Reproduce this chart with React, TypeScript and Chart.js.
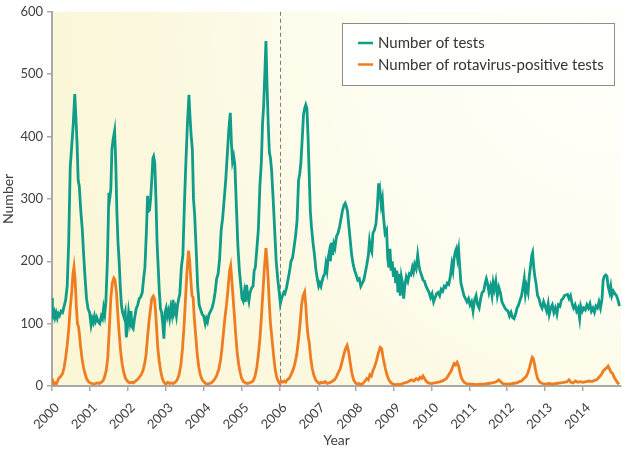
import React, { useEffect, useRef } from "react";
import { Chart, registerables } from "chart.js";

Chart.register(...registerables);

const yearTicks = [2000, 2001, 2002, 2003, 2004, 2005, 2006, 2007, 2008, 2009, 2010, 2011, 2012, 2013, 2014];
const numberTicks = [0, 100, 200, 300, 400, 500, 600];
const seriesLabels = ["Number of tests", "Number of rotavirus-positive tests"];
const dividerYear = 2006;

const testsSeries: [number, number][] = [
  [2000.00, 141], [2000.01, 118], [2000.03, 112], [2000.06, 118], [2000.08, 110], [2000.11, 117], [2000.14, 109],
  [2000.17, 116], [2000.20, 113], [2000.24, 120], [2000.28, 118], [2000.32, 128], [2000.36, 138], [2000.40, 160],
  [2000.44, 230], [2000.48, 350], [2000.52, 385], [2000.56, 420], [2000.60, 468], [2000.63, 430], [2000.66, 390],
  [2000.69, 330], [2000.72, 320], [2000.76, 280], [2000.80, 250], [2000.83, 215], [2000.87, 175], [2000.91, 140],
  [2000.95, 124], [2000.99, 118], [2001.03, 98], [2001.06, 108], [2001.09, 102], [2001.12, 112], [2001.15, 104],
  [2001.18, 110], [2001.22, 103], [2001.26, 100], [2001.30, 112], [2001.33, 108], [2001.36, 125], [2001.39, 115],
  [2001.42, 135], [2001.46, 200], [2001.50, 310], [2001.52, 300], [2001.55, 315], [2001.58, 380], [2001.61, 395],
  [2001.65, 409], [2001.68, 360], [2001.71, 280], [2001.74, 230], [2001.77, 200], [2001.80, 160], [2001.83, 130],
  [2001.86, 118], [2001.90, 110], [2001.93, 118], [2001.96, 78], [2001.99, 95], [2002.02, 118], [2002.05, 104],
  [2002.08, 120], [2002.11, 95], [2002.14, 92], [2002.18, 110], [2002.22, 124], [2002.26, 130], [2002.30, 140],
  [2002.34, 143], [2002.38, 150], [2002.42, 175], [2002.45, 190], [2002.49, 250], [2002.52, 305], [2002.54, 280],
  [2002.57, 282], [2002.60, 300], [2002.63, 330], [2002.66, 365], [2002.68, 368], [2002.71, 357], [2002.74, 300],
  [2002.77, 230], [2002.80, 190], [2002.83, 150], [2002.86, 124], [2002.89, 118], [2002.92, 100], [2002.95, 76],
  [2002.98, 118], [2003.01, 125], [2003.04, 112], [2003.07, 120], [2003.10, 109], [2003.13, 125], [2003.16, 115],
  [2003.19, 138], [2003.22, 118], [2003.25, 125], [2003.28, 113], [2003.31, 130], [2003.34, 140], [2003.37, 148],
  [2003.41, 190], [2003.45, 210], [2003.49, 290], [2003.53, 360], [2003.57, 420], [2003.61, 467], [2003.64, 430],
  [2003.67, 400], [2003.70, 380], [2003.73, 300], [2003.76, 275], [2003.80, 220], [2003.84, 160], [2003.88, 130],
  [2003.92, 122], [2003.96, 115], [2004.00, 112], [2004.04, 100], [2004.07, 108], [2004.10, 103], [2004.14, 115],
  [2004.18, 120], [2004.22, 125], [2004.26, 135], [2004.30, 150], [2004.34, 172], [2004.38, 180], [2004.42, 205],
  [2004.46, 250], [2004.50, 270], [2004.54, 300], [2004.58, 330], [2004.62, 370], [2004.66, 410], [2004.70, 438],
  [2004.73, 390], [2004.76, 360], [2004.79, 368], [2004.82, 355], [2004.86, 290], [2004.90, 225], [2004.94, 185],
  [2004.98, 160], [2005.01, 140], [2005.04, 136], [2005.07, 150], [2005.10, 135], [2005.13, 162], [2005.16, 145],
  [2005.19, 136], [2005.22, 150], [2005.26, 157], [2005.30, 160], [2005.33, 185], [2005.36, 190], [2005.40, 220],
  [2005.44, 251], [2005.48, 320], [2005.52, 360], [2005.55, 420], [2005.58, 450], [2005.61, 500], [2005.64, 553],
  [2005.67, 480], [2005.70, 420], [2005.73, 375], [2005.76, 365], [2005.79, 345], [2005.83, 300], [2005.87, 250],
  [2005.91, 200], [2005.95, 172], [2005.99, 150], [2006.02, 132], [2006.05, 140], [2006.08, 145], [2006.11, 150],
  [2006.14, 148], [2006.18, 157], [2006.22, 170], [2006.26, 183], [2006.30, 200], [2006.34, 205], [2006.38, 222],
  [2006.42, 240], [2006.46, 265], [2006.50, 330], [2006.53, 340], [2006.56, 357], [2006.60, 400], [2006.63, 435],
  [2006.66, 445], [2006.69, 451], [2006.72, 445], [2006.75, 400], [2006.78, 340], [2006.81, 280], [2006.84, 255],
  [2006.88, 230], [2006.92, 210], [2006.96, 185], [2007.00, 170], [2007.03, 160], [2007.06, 165], [2007.09, 160],
  [2007.12, 168], [2007.15, 175], [2007.19, 180], [2007.22, 195], [2007.25, 185], [2007.28, 205], [2007.31, 215],
  [2007.34, 200], [2007.37, 230], [2007.40, 210], [2007.43, 228], [2007.46, 222], [2007.50, 240], [2007.54, 245],
  [2007.58, 255], [2007.62, 268], [2007.66, 282], [2007.70, 290], [2007.73, 293], [2007.76, 288], [2007.79, 280],
  [2007.82, 260], [2007.86, 235], [2007.90, 210], [2007.94, 195], [2007.98, 185], [2008.02, 178], [2008.06, 170],
  [2008.10, 172], [2008.14, 160], [2008.18, 165], [2008.22, 170], [2008.26, 182], [2008.30, 195], [2008.34, 210],
  [2008.37, 232], [2008.40, 220], [2008.43, 215], [2008.46, 245], [2008.50, 250], [2008.54, 260], [2008.58, 290],
  [2008.61, 325], [2008.63, 300], [2008.65, 310], [2008.68, 290], [2008.71, 300], [2008.74, 270], [2008.78, 245],
  [2008.82, 250], [2008.85, 205], [2008.88, 190], [2008.91, 220], [2008.94, 185], [2008.97, 200], [2009.00, 175],
  [2009.03, 190], [2009.06, 165], [2009.09, 185], [2009.12, 150], [2009.15, 180], [2009.18, 145], [2009.21, 175],
  [2009.24, 165], [2009.27, 140], [2009.30, 160], [2009.34, 175], [2009.38, 168], [2009.42, 180], [2009.46, 178],
  [2009.50, 190], [2009.53, 183], [2009.56, 195], [2009.60, 188], [2009.64, 210], [2009.67, 195], [2009.70, 185],
  [2009.74, 178], [2009.78, 170], [2009.82, 168], [2009.86, 160], [2009.90, 155], [2009.94, 150], [2009.98, 142],
  [2010.02, 148], [2010.06, 135], [2010.10, 142], [2010.14, 148], [2010.18, 150], [2010.22, 145], [2010.26, 155],
  [2010.30, 152], [2010.34, 160], [2010.38, 158], [2010.42, 165], [2010.46, 163], [2010.50, 175], [2010.54, 195],
  [2010.57, 185], [2010.60, 205], [2010.63, 215], [2010.66, 220], [2010.69, 205], [2010.72, 218], [2010.75, 190],
  [2010.78, 165], [2010.82, 155], [2010.86, 145], [2010.90, 140], [2010.94, 135], [2010.98, 140], [2011.02, 130],
  [2011.06, 135], [2011.10, 120], [2011.14, 138], [2011.18, 145], [2011.22, 130], [2011.26, 125], [2011.30, 140],
  [2011.34, 150], [2011.38, 152], [2011.42, 165], [2011.45, 172], [2011.48, 165], [2011.52, 150], [2011.56, 160],
  [2011.60, 145], [2011.63, 165], [2011.66, 155], [2011.70, 168], [2011.74, 145], [2011.78, 158], [2011.82, 150],
  [2011.86, 135], [2011.90, 130], [2011.94, 125], [2011.98, 122], [2012.02, 120], [2012.06, 112], [2012.10, 118],
  [2012.14, 110], [2012.18, 108], [2012.22, 115], [2012.26, 125], [2012.30, 130], [2012.34, 138], [2012.38, 145],
  [2012.42, 160], [2012.45, 172], [2012.48, 148], [2012.51, 160], [2012.55, 150], [2012.58, 175], [2012.62, 195],
  [2012.65, 210], [2012.67, 214], [2012.70, 190], [2012.73, 175], [2012.76, 165], [2012.80, 145], [2012.84, 140],
  [2012.88, 130], [2012.92, 125], [2012.96, 135], [2013.00, 128], [2013.04, 120], [2013.08, 132], [2013.11, 115],
  [2013.15, 125], [2013.19, 130], [2013.23, 118], [2013.27, 125], [2013.31, 115], [2013.35, 130], [2013.39, 128],
  [2013.43, 138], [2013.47, 140], [2013.51, 145], [2013.55, 146], [2013.59, 147], [2013.63, 140], [2013.67, 145],
  [2013.71, 132], [2013.75, 125], [2013.79, 130], [2013.83, 120], [2013.87, 125], [2013.91, 108], [2013.94, 128],
  [2013.98, 120], [2014.02, 125], [2014.06, 122], [2014.10, 130], [2014.14, 125], [2014.18, 132], [2014.22, 120],
  [2014.26, 125], [2014.30, 118], [2014.34, 128], [2014.38, 125], [2014.42, 135], [2014.46, 125], [2014.50, 140],
  [2014.53, 170], [2014.56, 176], [2014.60, 178], [2014.63, 176], [2014.66, 160], [2014.70, 150], [2014.73, 160],
  [2014.76, 145], [2014.80, 152], [2014.84, 148], [2014.88, 145], [2014.92, 138], [2014.96, 128],
];

const positiveSeries: [number, number][] = [
  [2000.00, 12], [2000.03, 6], [2000.06, 3], [2000.09, 5], [2000.12, 4], [2000.15, 8], [2000.18, 13], [2000.21, 14],
  [2000.24, 16], [2000.28, 20], [2000.32, 30], [2000.36, 45], [2000.40, 65], [2000.44, 90], [2000.48, 125],
  [2000.52, 150], [2000.55, 178], [2000.58, 191], [2000.61, 170], [2000.64, 130], [2000.67, 100], [2000.70, 95],
  [2000.72, 85], [2000.75, 65], [2000.79, 45], [2000.83, 30], [2000.87, 20], [2000.91, 12], [2000.95, 8],
  [2001.00, 5], [2001.05, 4], [2001.10, 3], [2001.15, 4], [2001.20, 5], [2001.25, 4], [2001.30, 6], [2001.35, 9],
  [2001.39, 15], [2001.43, 25], [2001.47, 45], [2001.51, 90], [2001.55, 140], [2001.59, 165], [2001.63, 173],
  [2001.66, 170], [2001.70, 150], [2001.73, 120], [2001.77, 85], [2001.81, 55], [2001.85, 35], [2001.89, 22],
  [2001.94, 12], [2002.00, 7], [2002.05, 5], [2002.10, 6], [2002.15, 5], [2002.20, 8], [2002.25, 10], [2002.30, 14],
  [2002.35, 18], [2002.40, 25], [2002.44, 35], [2002.48, 50], [2002.52, 80], [2002.56, 105], [2002.60, 125],
  [2002.63, 140], [2002.67, 144], [2002.70, 140], [2002.73, 120], [2002.76, 90], [2002.79, 60], [2002.83, 38],
  [2002.87, 22], [2002.91, 12], [2002.95, 6], [2003.00, 3], [2003.05, 6], [2003.10, 4], [2003.15, 5], [2003.20, 4],
  [2003.25, 6], [2003.30, 10], [2003.35, 18], [2003.40, 35], [2003.44, 60], [2003.48, 95], [2003.52, 140],
  [2003.56, 185], [2003.60, 217], [2003.63, 200], [2003.66, 170], [2003.69, 145], [2003.72, 142], [2003.75, 110],
  [2003.79, 80], [2003.83, 50], [2003.87, 30], [2003.91, 18], [2003.96, 10], [2004.00, 7], [2004.05, 4], [2004.10, 3],
  [2004.15, 4], [2004.20, 5], [2004.25, 8], [2004.30, 12], [2004.35, 18], [2004.40, 28], [2004.44, 40], [2004.48, 60],
  [2004.52, 85], [2004.56, 110], [2004.60, 130], [2004.64, 155], [2004.68, 185], [2004.71, 193], [2004.74, 170],
  [2004.77, 145], [2004.80, 120], [2004.84, 85], [2004.88, 55], [2004.92, 35], [2004.96, 22], [2005.00, 12],
  [2005.05, 7], [2005.10, 5], [2005.15, 4], [2005.20, 5], [2005.25, 6], [2005.30, 8], [2005.35, 15], [2005.40, 30],
  [2005.44, 50], [2005.48, 75], [2005.52, 110], [2005.56, 150], [2005.60, 190], [2005.64, 221], [2005.67, 200],
  [2005.70, 170], [2005.73, 130], [2005.76, 100], [2005.80, 75], [2005.84, 50], [2005.88, 28], [2005.92, 15],
  [2005.96, 8], [2006.00, 4], [2006.04, 8], [2006.08, 6], [2006.12, 8], [2006.16, 6], [2006.20, 10], [2006.25, 12],
  [2006.30, 18], [2006.35, 25], [2006.40, 35], [2006.45, 50], [2006.50, 75], [2006.54, 100], [2006.58, 130],
  [2006.62, 145], [2006.66, 151], [2006.69, 130], [2006.72, 100], [2006.75, 80], [2006.78, 70], [2006.82, 45],
  [2006.86, 28], [2006.90, 18], [2006.95, 10], [2007.00, 6], [2007.05, 4], [2007.10, 6], [2007.15, 5], [2007.20, 7],
  [2007.25, 4], [2007.30, 5], [2007.35, 6], [2007.40, 8], [2007.45, 10], [2007.50, 15], [2007.55, 22], [2007.60, 28],
  [2007.65, 40], [2007.70, 52], [2007.74, 60], [2007.78, 65], [2007.82, 55], [2007.86, 38], [2007.90, 22],
  [2007.95, 10], [2008.00, 5], [2008.05, 3], [2008.10, 4], [2008.15, 2], [2008.20, 4], [2008.25, 8], [2008.30, 12],
  [2008.34, 10], [2008.38, 18], [2008.42, 16], [2008.46, 25], [2008.50, 30], [2008.55, 40], [2008.60, 52],
  [2008.65, 62], [2008.69, 60], [2008.73, 45], [2008.78, 30], [2008.83, 18], [2008.88, 10], [2008.94, 5],
  [2009.00, 3], [2009.06, 2], [2009.12, 3], [2009.18, 2], [2009.24, 4], [2009.30, 5], [2009.36, 6], [2009.42, 8],
  [2009.48, 10], [2009.54, 8], [2009.60, 12], [2009.66, 10], [2009.70, 14], [2009.74, 12], [2009.78, 16],
  [2009.82, 12], [2009.86, 8], [2009.92, 5], [2010.00, 4], [2010.08, 5], [2010.16, 6], [2010.24, 7], [2010.32, 9],
  [2010.40, 12], [2010.46, 18], [2010.52, 24], [2010.56, 30], [2010.60, 36], [2010.64, 34], [2010.68, 38],
  [2010.72, 32], [2010.76, 20], [2010.80, 12], [2010.86, 6], [2010.92, 4], [2011.00, 3], [2011.10, 3], [2011.20, 2],
  [2011.30, 3], [2011.40, 3], [2011.50, 4], [2011.60, 5], [2011.68, 6], [2011.74, 8], [2011.78, 10], [2011.83, 7],
  [2011.88, 4], [2011.95, 3], [2012.05, 3], [2012.15, 4], [2012.25, 5], [2012.32, 7], [2012.38, 8], [2012.44, 12],
  [2012.50, 15], [2012.55, 22], [2012.59, 30], [2012.63, 40], [2012.66, 46], [2012.69, 44], [2012.72, 35],
  [2012.76, 22], [2012.80, 12], [2012.86, 6], [2012.93, 4], [2013.00, 3], [2013.10, 4], [2013.20, 3], [2013.30, 4],
  [2013.40, 5], [2013.50, 6], [2013.58, 7], [2013.63, 10], [2013.68, 6], [2013.74, 5], [2013.80, 8], [2013.86, 6],
  [2013.92, 7], [2014.00, 6], [2014.08, 7], [2014.16, 8], [2014.24, 7], [2014.30, 9], [2014.36, 10], [2014.42, 14],
  [2014.48, 18], [2014.53, 24], [2014.58, 27], [2014.62, 29], [2014.66, 32], [2014.70, 27], [2014.74, 22],
  [2014.78, 20], [2014.82, 14], [2014.86, 10], [2014.90, 6], [2014.95, 3],
];

const TEAL = "#0f9c88";
const ORANGE = "#ee7d21";
const AXIS_GREY = "#a9a9a9";
const TEXT = "#404040";
const FONT = "Lato, 'Open Sans', sans-serif";

export default function App() {
  const canvasRef = useRef<HTMLCanvasElement | null>(null);

  useEffect(() => {
    document.body.style.margin = "0";
    const canvas = canvasRef.current;
    if (!canvas) return;

    const backgroundPlugin = {
      id: "gradientBackground",
      beforeDraw(chart: any) {
        const { ctx, chartArea: a } = chart;
        const cx = a.right - 10;
        const cy = a.top + 30;
        const g = ctx.createRadialGradient(cx, cy, 0, cx, cy, 600);
        g.addColorStop(0, "#fffffb");
        g.addColorStop(0.4, "#fefdf1");
        g.addColorStop(0.75, "#fbf8df");
        g.addColorStop(1, "#faf6d6");
        ctx.save();
        ctx.fillStyle = g;
        ctx.fillRect(a.left, a.top, a.right - a.left, a.bottom - a.top);
        ctx.restore();
      },
    };

    const dividerPlugin = {
      id: "divider",
      beforeDatasetsDraw(chart: any) {
        const { ctx, chartArea: a, scales } = chart;
        const x = Math.round(scales.x.getPixelForValue(dividerYear)) + 0.5;
        ctx.save();
        ctx.strokeStyle = "#7a7a7a";
        ctx.lineWidth = 1;
        ctx.setLineDash([4, 3]);
        ctx.beginPath();
        ctx.moveTo(x, a.top);
        ctx.lineTo(x, a.bottom);
        ctx.stroke();
        ctx.restore();
      },
    };

    const legendPlugin = {
      id: "boxLegend",
      afterDraw(chart: any) {
        const { ctx } = chart;
        const colors = [TEAL, ORANGE];
        ctx.save();
        ctx.fillStyle = "#fffffd";
        ctx.fillRect(342, 23, 272, 62);
        ctx.strokeStyle = "#8c8c8c";
        ctx.lineWidth = 1;
        ctx.strokeRect(342.5, 23.5, 272, 62);
        ctx.font = `15px ${FONT}`;
        ctx.textBaseline = "middle";
        ctx.textAlign = "left";
        seriesLabels.forEach((label, i) => {
          const y = 43 + i * 21.5;
          ctx.strokeStyle = colors[i];
          ctx.lineWidth = 2.5;
          ctx.beginPath();
          ctx.moveTo(358, y);
          ctx.lineTo(373, y);
          ctx.stroke();
          ctx.fillStyle = "#333333";
          ctx.fillText(label, 378, y + 0.5);
        });
        ctx.restore();
      },
    };

    const chart = new Chart(canvas, {
      type: "line",
      data: {
        datasets: [
          {
            label: seriesLabels[0],
            data: testsSeries.map(([x, y]) => ({ x, y })),
            borderColor: TEAL,
            borderWidth: 2.8,
            pointRadius: 0,
            tension: 0,
            fill: false,
          },
          {
            label: seriesLabels[1],
            data: positiveSeries.map(([x, y]) => ({ x, y })),
            borderColor: ORANGE,
            borderWidth: 2.8,
            pointRadius: 0,
            tension: 0,
            fill: false,
          },
        ],
      },
      options: {
        responsive: false,
        animation: false,
        layout: { padding: { top: 6, right: 5, bottom: 4, left: 0 } },
        plugins: { legend: { display: false }, tooltip: { enabled: false } },
        scales: {
          x: {
            type: "linear",
            min: 2000,
            max: 2015,
            afterBuildTicks: (s: any) => {
              s.ticks = yearTicks.map((v) => ({ value: v }));
            },
            afterFit: (s: any) => {
              s.height = 67;
            },
            ticks: {
              autoSkip: false,
              minRotation: 45,
              maxRotation: 45,
              padding: 9,
              labelOffset: 5,
              color: TEXT,
              font: { family: FONT, size: 13 },
              callback: (v: any) => String(v),
            },
            grid: { drawOnChartArea: false, drawTicks: true, tickLength: 5, color: AXIS_GREY, lineWidth: 1.5 },
            border: { color: AXIS_GREY, width: 2 },
            title: {
              display: true,
              text: "Year",
              color: TEXT,
              font: { family: FONT, size: 14 },
              padding: { top: 0, bottom: 4 },
            },
          },
          y: {
            min: 0,
            max: 600,
            afterBuildTicks: (s: any) => {
              s.ticks = numberTicks.map((v) => ({ value: v }));
            },
            afterFit: (s: any) => {
              s.width = 52;
            },
            ticks: {
              padding: 4,
              color: TEXT,
              font: { family: FONT, size: 13 },
              callback: (v: any) => String(v),
            },
            grid: { drawOnChartArea: false, drawTicks: true, tickLength: 5, color: AXIS_GREY, lineWidth: 1.5 },
            border: { color: AXIS_GREY, width: 2 },
            title: {
              display: true,
              text: "Number",
              color: TEXT,
              font: { family: FONT, size: 14 },
              padding: { top: 0, bottom: 0 },
            },
          },
        },
      },
      plugins: [backgroundPlugin, dividerPlugin, legendPlugin],
    });

    return () => chart.destroy();
  }, []);

  return (
    <div style={{ width: 626, height: 457 }}>
      <canvas ref={canvasRef} width={626} height={457} style={{ display: "block" }} />
    </div>
  );
}
